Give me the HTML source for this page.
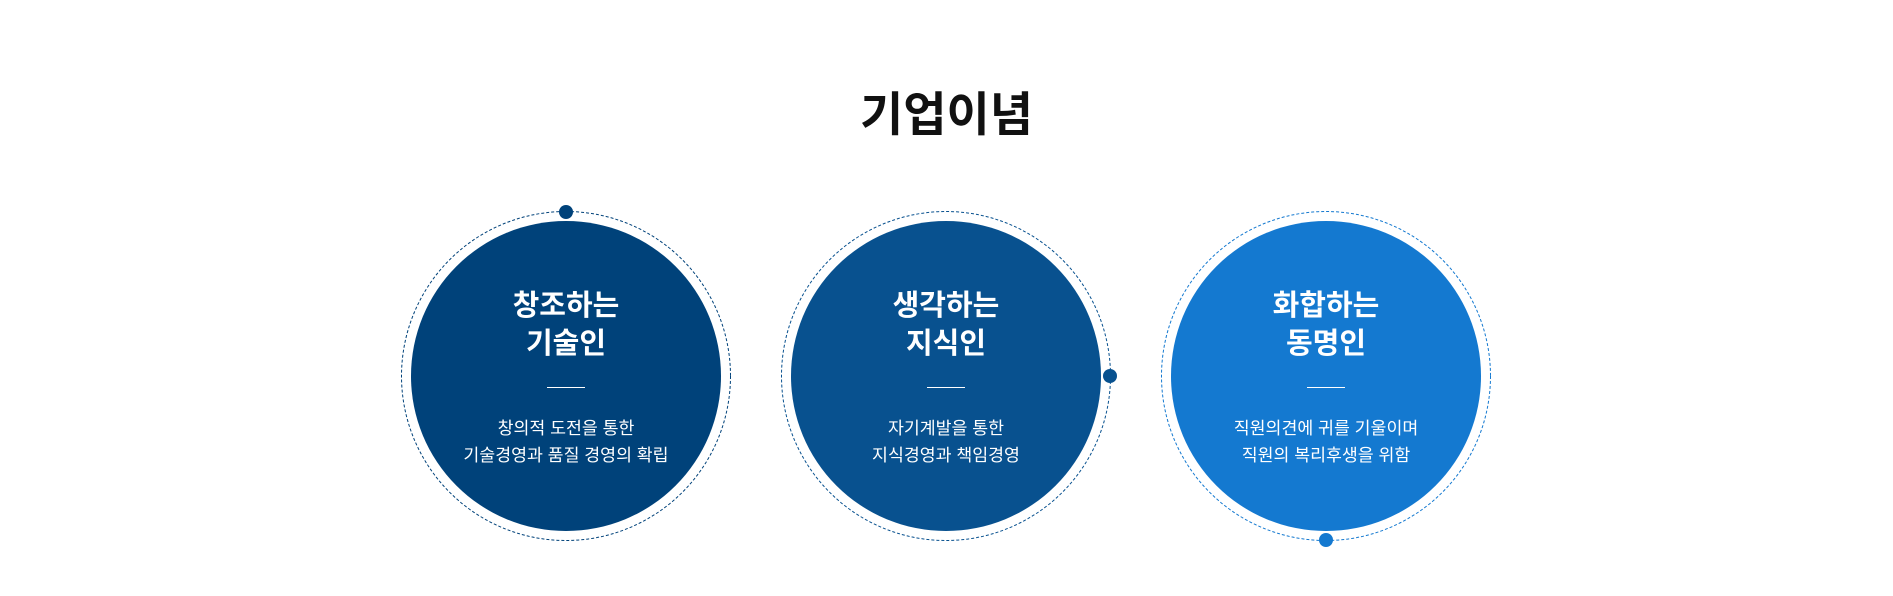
<!DOCTYPE html>
<html><head><meta charset="utf-8"><style>
html,body{margin:0;padding:0;background:#fff;width:1893px;height:596px;overflow:hidden}
body{position:relative;font-family:"Liberation Sans","Noto Sans CJK KR","NanumGothic",sans-serif}
.t{position:absolute;left:0;width:1893px;top:85px;text-align:center;font-size:47px;font-weight:700;color:#111;line-height:60px}
.c{position:absolute;width:310px;height:310px;border-radius:50%;color:#fff;text-align:center}
.h{position:absolute;left:0;right:0;top:66px;font-size:29px;font-weight:700;line-height:38px}
.d{position:absolute;left:136px;width:38px;top:166px;border-top:1px solid #fff}
.p{position:absolute;left:0;right:0;top:194px;font-size:17.3px;line-height:27px}
svg{position:absolute;left:0;top:0}
</style></head><body>
<div class="t">기업이념</div>
<svg width="1893" height="596">
<circle cx="566" cy="376" r="164.5" fill="none" stroke="#00427a" stroke-width="1" stroke-dasharray="3,2"/>
<circle cx="946" cy="376" r="164.5" fill="none" stroke="#08518f" stroke-width="1" stroke-dasharray="3,2"/>
<circle cx="1326" cy="376" r="164.5" fill="none" stroke="#1479d0" stroke-width="1" stroke-dasharray="3,2"/>
<circle cx="566" cy="212" r="7" fill="#00427a"/>
<circle cx="1110" cy="376" r="7" fill="#08518f"/>
<circle cx="1326" cy="540" r="7" fill="#1479d0"/>
</svg>
<div class="c" style="left:411px;top:221px;background:#00427a">
<div class="h">창조하는<br>기술인</div><div class="d"></div>
<div class="p">창의적 도전을 통한<br>기술경영과 품질 경영의 확립</div></div>
<div class="c" style="left:791px;top:221px;background:#08518f">
<div class="h">생각하는<br>지식인</div><div class="d"></div>
<div class="p">자기계발을 통한<br>지식경영과 책임경영</div></div>
<div class="c" style="left:1171px;top:221px;background:#1479d0">
<div class="h">화합하는<br>동명인</div><div class="d"></div>
<div class="p">직원의견에 귀를 기울이며<br>직원의 복리후생을 위함</div></div>
</body></html>
